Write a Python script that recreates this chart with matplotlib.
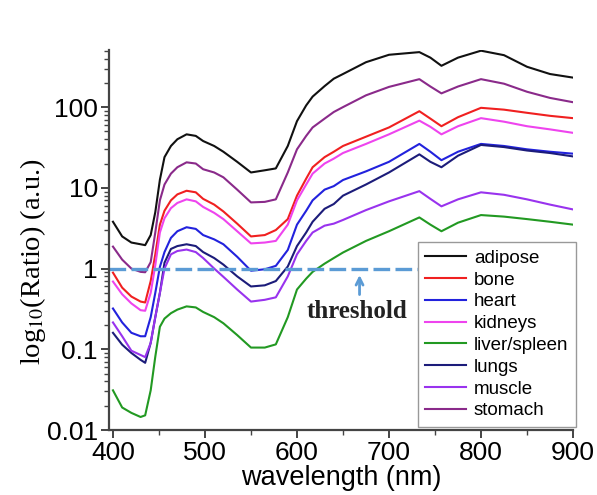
import numpy as np
import matplotlib
matplotlib.use('Agg')
import matplotlib.pyplot as plt
from matplotlib.ticker import FixedLocator, FixedFormatter, LogLocator, NullFormatter, MultipleLocator

# wavelengths (nm)
wl = [400, 410, 420, 430, 435, 441, 446, 451, 456, 463, 470, 480, 490, 498, 510, 520, 535, 550, 565, 577,
      590, 600, 610, 617, 630, 640, 650, 675, 700, 733, 745, 757, 775, 800, 825, 850, 875, 900]

adipose = [3.8, 2.5, 2.1, 2.0, 1.95, 2.6, 5.0, 12.6, 24, 33, 40, 46, 44, 38, 33, 28, 21, 15.5, 16.5, 17.4,
           33, 67, 105, 135, 182, 225, 257, 360, 445, 480, 410, 325, 410, 500, 440, 316, 257, 232]
bone = [0.89, 0.58, 0.45, 0.39, 0.38, 0.7, 1.5, 3.5, 5.2, 7.0, 8.3, 9.2, 8.8, 7.3, 6.2, 5.1, 3.6, 2.5, 2.6, 3.0,
        4.1, 8.0, 13, 18, 24, 28, 33, 43, 56, 89, 72, 58, 75, 98, 93, 85, 78, 73]
heart = [0.32, 0.215, 0.16, 0.145, 0.145, 0.25, 0.5, 1.05, 1.6, 2.4, 2.9, 3.25, 3.1, 2.6, 2.3, 2.0, 1.4, 0.94, 0.98, 1.08,
         1.7, 3.5, 5.2, 7.0, 9.5, 10.5, 12.5, 16, 21, 35, 28, 22, 28, 35, 33, 30, 28, 26.5]
kidneys = [0.69, 0.48, 0.37, 0.305, 0.30, 0.5, 1.1, 2.8, 4.2, 5.6, 6.5, 7.2, 6.8, 5.8, 4.9, 4.1, 2.9, 2.05, 2.1, 2.2,
           3.5, 7.0, 11, 15, 20, 23, 27, 35, 46, 68, 57, 46, 58, 73, 66, 58, 53, 48]
liver = [0.031, 0.019, 0.0163, 0.0145, 0.0152, 0.031, 0.081, 0.19, 0.24, 0.28, 0.31, 0.34, 0.33, 0.29, 0.25, 0.21, 0.15, 0.105, 0.105, 0.115,
         0.25, 0.55, 0.75, 0.91, 1.15, 1.35, 1.58, 2.2, 2.9, 4.3, 3.5, 2.9, 3.7, 4.6, 4.4, 4.1, 3.8, 3.5]
lungs = [0.16, 0.114, 0.09, 0.074, 0.068, 0.12, 0.25, 0.5, 1.18, 1.75, 1.9, 2.0, 1.9, 1.6, 1.35, 1.12, 0.8, 0.6, 0.62, 0.7,
         1.06, 1.9, 2.8, 3.8, 5.5, 6.3, 8.0, 11, 15.5, 26, 21, 18, 25, 34, 32, 29, 27, 24.5]
muscle = [0.215, 0.145, 0.096, 0.085, 0.08, 0.12, 0.25, 0.5, 1.0, 1.5, 1.65, 1.72, 1.6, 1.35, 1.0, 0.79, 0.55, 0.39, 0.41, 0.44,
          0.8, 1.5, 2.2, 2.8, 3.4, 3.6, 4.0, 5.3, 6.8, 9.1, 7.3, 5.9, 7.2, 8.8, 8.2, 7.2, 6.2, 5.4]
stomach = [1.87, 1.29, 1.0, 0.91, 0.9, 1.2, 2.8, 7.0, 11, 15, 18, 20.7, 20, 17, 15.5, 13.5, 9.5, 6.6, 6.7, 7.2,
           15.5, 30, 44, 56, 72, 87, 100, 140, 178, 222, 180, 148, 180, 222, 195, 155, 130, 115]

names = ['adipose', 'bone', 'heart', 'kidneys', 'liver/spleen', 'lungs', 'muscle', 'stomach']
series = [adipose, bone, heart, kidneys, liver, lungs, muscle, stomach]
colors = ['#111111', '#f02020', '#2222dd', '#ee44ee', '#229922', '#1c1c7a', '#9933ee', '#8a2a8a']

yticks = [0.01, 0.1, 1, 10, 100]
ylabels = ['0.01', '0.1', '1', '10', '100']

plt.rcParams['font.family'] = ['Liberation Sans', 'DejaVu Sans']
plt.rcParams['mathtext.fontset'] = 'stix'

fig = plt.figure(figsize=(5.97, 4.95), dpi=100)
ax = fig.add_axes([0.1826, 0.1313, 0.7772, 0.7677])

for name, vals, c in zip(names, series, colors):
    ax.plot(wl, vals, color=c, lw=1.5, label=name)

# threshold line
ax.plot([395.7, 731], [1, 1], color='#5b9bd5', lw=2.4, dashes=(5, 1.6))
ax.annotate('', xy=(668, 0.9), xytext=(668, 0.44),
            arrowprops=dict(arrowstyle='->,head_length=0.5,head_width=0.25', color='#5b9bd5', lw=2))
ax.text(665, 0.29, 'threshold', ha='center', va='center', fontsize=18, fontweight='bold',
        family='Liberation Serif', color='#222222')

ax.set_yscale('log')
ax.set_xlim(395.7, 900)
ax.set_ylim(0.01, 510)
ax.yaxis.set_major_locator(FixedLocator(yticks))
ax.yaxis.set_major_formatter(FixedFormatter(ylabels))
ax.yaxis.set_minor_locator(LogLocator(base=10, subs=np.arange(2, 10)))
ax.yaxis.set_minor_formatter(NullFormatter())
ax.xaxis.set_major_locator(MultipleLocator(100))
ax.xaxis.set_minor_locator(MultipleLocator(50))

for s in ['top', 'right']:
    ax.spines[s].set_visible(False)
for s in ['left', 'bottom']:
    ax.spines[s].set_color('#444444')
    ax.spines[s].set_linewidth(1.6)
ax.tick_params(which='major', direction='out', length=6, width=1.4, color='#444444',
               labelsize=19, pad=2)
ax.tick_params(which='minor', direction='out', length=3.5, width=1.0, color='#444444')

ax.set_xlabel('wavelength (nm)', fontsize=19.5, labelpad=0)
ax.set_ylabel(r'log$_{10}$(Ratio) (a.u.)', fontsize=20.5, family='Liberation Serif')
ax.yaxis.set_label_coords(-0.131, 0.442)

leg = ax.legend(loc='lower right', bbox_to_anchor=(1.006, 0.008), borderaxespad=0,
                fontsize=13.5, handlelength=2.2, handletextpad=0.4, labelspacing=0.25,
                fancybox=False, edgecolor='#999999', framealpha=1, borderpad=0.4)
leg.get_frame().set_linewidth(1.0)

fig.savefig('out.png', dpi=100)
